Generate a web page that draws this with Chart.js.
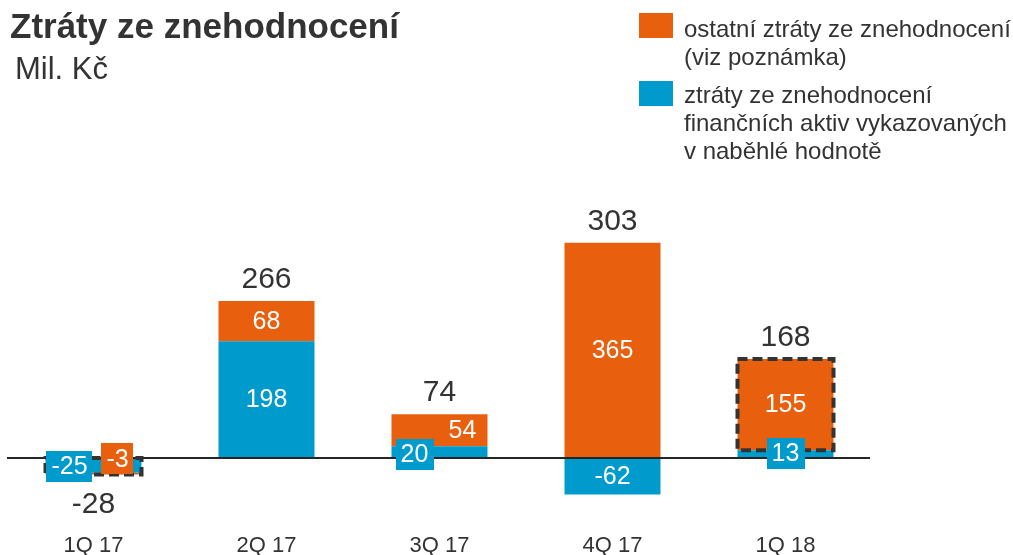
<!DOCTYPE html>
<html lang="cs">
<head>
<meta charset="utf-8">
<title>Ztráty ze znehodnocení</title>
<script src="https://cdn.jsdelivr.net/npm/chart.js@4.4.1/dist/chart.umd.min.js"></script>
<style>
  body { margin: 0; background: #fff; }
  .wrap { position: relative; width: 1013px; height: 555px; font-family: "Liberation Sans", Arial, sans-serif; color: #333; }
  canvas { position: absolute; left: 0; top: 0; }
  .title { position: absolute; left: 10px; top: 8px; font-size: 35px; line-height: 35px; font-weight: bold; white-space: nowrap; }
  .unit { position: absolute; left: 15px; top: 53px; font-size: 31px; line-height: 31px; white-space: nowrap; }
  .swatch { position: absolute; left: 639px; width: 34px; height: 25px; }
  .legend-text { position: absolute; left: 684px; font-size: 24px; line-height: 28px; white-space: nowrap; }
</style>
</head>
<body>
<div class="wrap">
  <canvas id="chart" width="1013" height="555"></canvas>
  <div class="title">Ztráty ze znehodnocení</div>
  <div class="unit">Mil. Kč</div>
  <div id="legend"></div>
</div>
<script>
  const categories = ["1Q 17", "2Q 17", "3Q 17", "4Q 17", "1Q 18"];
  const amortisedCostLosses = [-25, 198, 20, -62, 13];
  const otherLosses = [-3, 68, 54, 365, 155];
  const seriesNames = [
    ["ztráty ze znehodnocení", "finančních aktiv vykazovaných", "v naběhlé hodnotě"],
    ["ostatní ztráty ze znehodnocení", "(viz poznámka)"]
  ];
  const yMin = -100;
  const yMax = 400;

  const BLUE = "#009bcd";
  const ORANGE = "#e8600e";
  const TEXT = "#333333";

  // small values get a coloured box next to the bar, keyed "dataset-index"
  const labelPlacement = {
    "0-0": { box: true, dx: -24, dy: 1 },
    "1-0": { box: true, dx: 24, dy: -15 },
    "0-2": { box: true, dx: -25, dy: 2 },
    "1-2": { dx: 23, dy: 0 },
    "0-4": { box: true, dx: 0, dy: -1 }
  };
  const dashedBoxes = [
    { index: 0, datasets: [0, 1] },
    { index: 4, datasets: [1] }
  ];

  // legend (orange first, as in the picture)
  const legend = document.getElementById("legend");
  [[1, ORANGE, 13, 15], [0, BLUE, 81, 81]].forEach(([s, color, sTop, tTop]) => {
    legend.insertAdjacentHTML("beforeend",
      `<div class="swatch" style="top:${sTop}px;background:${color}"></div>` +
      `<div class="legend-text" style="top:${tTop}px">${seriesNames[s].join("<br>")}</div>`);
  });

  const labelPlugin = {
    id: "barLabels",
    afterDatasetsDraw(chart) {
      const ctx = chart.ctx;
      const area = chart.chartArea;
      const y0 = chart.scales.y.getPixelForValue(0);
      ctx.save();

      ctx.strokeStyle = "#262626";
      ctx.lineWidth = 2;
      ctx.beginPath();
      ctx.moveTo(area.left, y0);
      ctx.lineTo(area.right - 2, y0);
      ctx.stroke();

      ctx.setLineDash([10, 5]);
      ctx.lineWidth = 4;
      ctx.strokeStyle = "#333";
      dashedBoxes.forEach(b => {
        const els = b.datasets.map(d => chart.getDatasetMeta(d).data[b.index]);
        const top = Math.min(...els.map(e => Math.min(e.y, e.base)));
        const bottom = Math.max(...els.map(e => Math.max(e.y, e.base)));
        const e = els[0];
        ctx.strokeRect(e.x - e.width / 2, top, e.width, bottom - top);
      });
      ctx.setLineDash([]);

      ctx.textAlign = "center";
      ctx.textBaseline = "middle";
      ctx.font = '25px "Liberation Sans", Arial, sans-serif';
      chart.data.datasets.forEach((ds, d) => {
        chart.getDatasetMeta(d).data.forEach((el, i) => {
          const p = labelPlacement[d + "-" + i] || { dx: 0, dy: 0 };
          const text = String(ds.data[i]);
          const cx = el.x + (p.dx || 0);
          const cy = (el.y + el.base) / 2 + (p.dy || 0);
          if (p.box) {
            const w = ctx.measureText(text).width;
            ctx.fillStyle = ds.backgroundColor;
            ctx.fillRect(Math.round(cx - w / 2 - 5), Math.round(cy - 15.5), Math.round(w + 10), 31);
          }
          ctx.fillStyle = "#fff";
          ctx.fillText(text, cx, cy + 1);
        });
      });

      ctx.font = '30px "Liberation Sans", Arial, sans-serif';
      ctx.fillStyle = TEXT;
      ctx.textBaseline = "alphabetic";
      categories.forEach((c, i) => {
        const els = chart.data.datasets.map((ds, d) => chart.getDatasetMeta(d).data[i]);
        const total = chart.data.datasets.reduce((s, ds) => s + ds.data[i], 0);
        const x = els[0].x;
        if (total >= 0) {
          const top = Math.min(...els.map(e => Math.min(e.y, e.base)));
          ctx.fillText(String(total), x, top - 13);
        } else {
          const bottom = Math.max(...els.map(e => Math.max(e.y, e.base)));
          ctx.fillText(String(total), x, bottom + 38);
        }
      });
      ctx.restore();
    }
  };

  new Chart(document.getElementById("chart"), {
    type: "bar",
    data: {
      labels: categories,
      datasets: [
        { label: seriesNames[0].join(" "), data: amortisedCostLosses, backgroundColor: BLUE },
        { label: seriesNames[1].join(" "), data: otherLosses, backgroundColor: ORANGE }
      ]
    },
    options: {
      responsive: false,
      animation: false,
      layout: { padding: { left: 7, right: 141, top: 222, bottom: 0 } },
      categoryPercentage: 1,
      barPercentage: 0.555,
      plugins: { legend: { display: false }, tooltip: { enabled: false } },
      scales: {
        x: {
          stacked: true,
          grid: { display: false, drawTicks: false },
          border: { display: false },
          ticks: { color: TEXT, padding: 16, font: { family: '"Liberation Sans", Arial, sans-serif', size: 22 } },
          afterFit(scale) { scale.height = 38; }
        },
        y: { stacked: true, display: false, min: yMin, max: yMax }
      }
    },
    plugins: [labelPlugin]
  });
</script>
</body>
</html>
